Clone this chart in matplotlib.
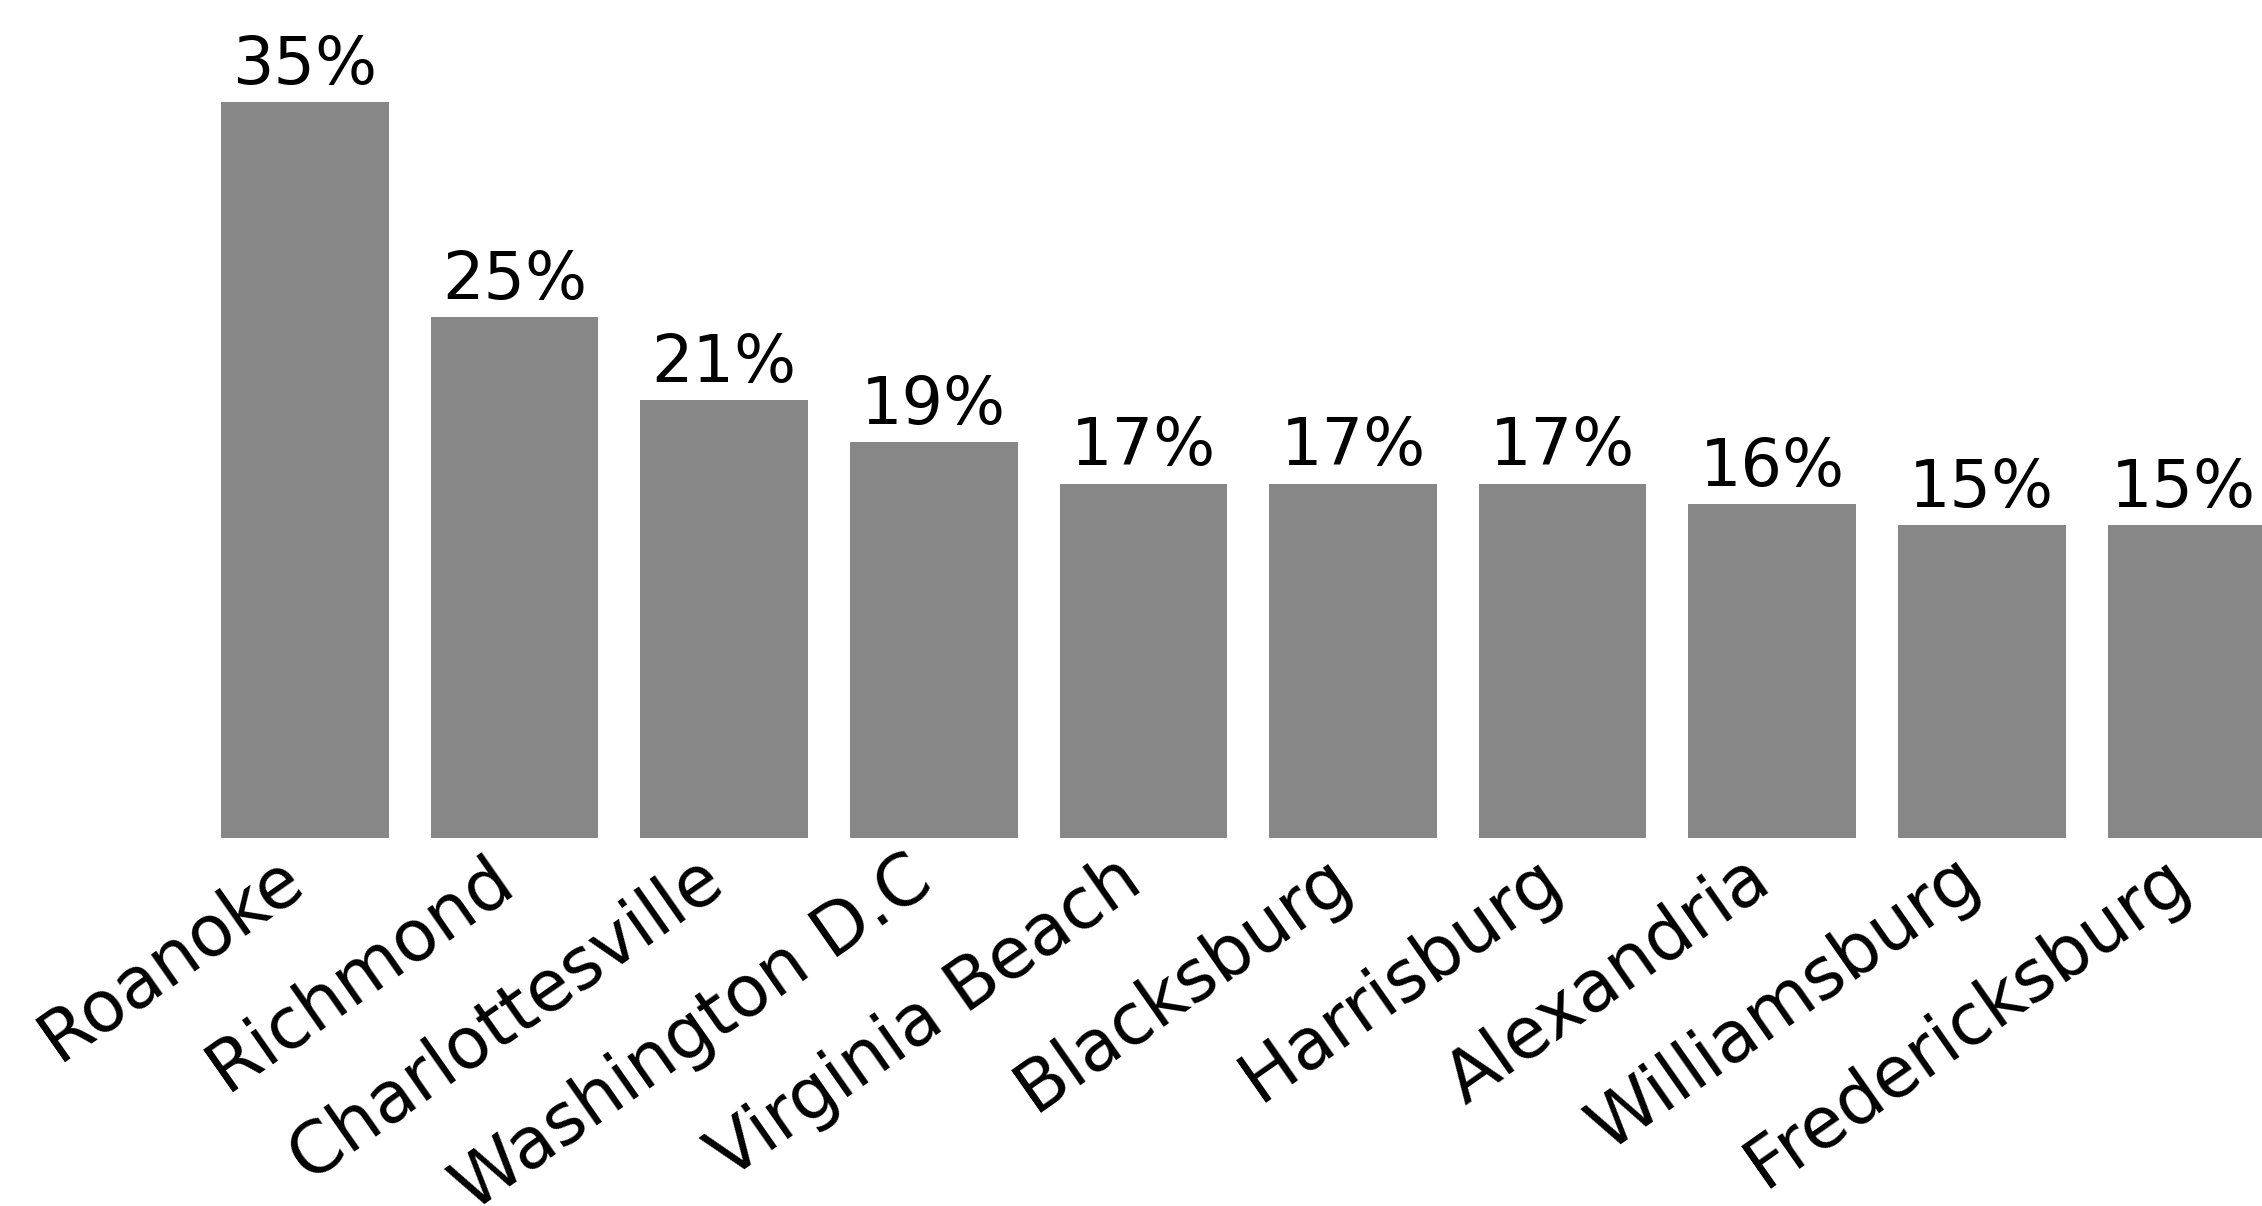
import numpy as np
import matplotlib.pyplot as plt
import matplotlib.transforms as mtransforms

# Data
cities = ["Roanoke", "Richmond", "Charlottesville", "Washington D.C", "Virginia Beach",
          "Blacksburg", "Harrisburg", "Alexandria", "Williamsburg", "Fredericksburg"]
shares = [35.3, 25, 21, 19, 17, 17, 17, 16, 15, 15]
share_labels = ["35%", "25%", "21%", "19%", "17%", "17%", "17%", "16%", "15%", "15%"]

bar_color = "#878787"
plt.rcParams['font.family'] = ['DejaVu Sans']

W, H = 2262, 1206
fig = plt.figure(figsize=(W / 100, H / 100), dpi=100)

# axes spans full width, baseline at 838 px from the top
base_px = 838
ax = fig.add_axes([0, (H - base_px) / H, 1, base_px / H])

px_per_unit_x = 209.6
first_center = 305
ax.set_xlim(-first_center / px_per_unit_x, (W - first_center) / px_per_unit_x)
px_per_pct = 20.85
ax.set_ylim(0, base_px / px_per_pct)

x = np.arange(len(cities))
ax.bar(x, shares, width=0.8, color=bar_color)

for i, (xi, v, lab) in enumerate(zip(x, shares, share_labels)):
    # last label sits at the figure edge, nudge it in a little
    dx = -6 if i == len(x) - 1 else 0
    ax.annotate(lab, (xi, v), xytext=(dx, 3), textcoords="offset points",
                ha="center", va="bottom", fontsize=47, color="black")

ax.set_xticks(x)
ax.set_xticklabels(cities, rotation=35, ha="right", va="center", rotation_mode="anchor", fontsize=51)
ax.tick_params(axis="x", length=0, pad=25)
shift = mtransforms.ScaledTranslation(-0.09, 0, fig.dpi_scale_trans)
for lbl in ax.get_xticklabels():
    lbl.set_transform(lbl.get_transform() + shift)
ax.set_yticks([])
for s in ax.spines.values():
    s.set_visible(False)

fig.savefig("out.png", dpi=100, facecolor="white")
